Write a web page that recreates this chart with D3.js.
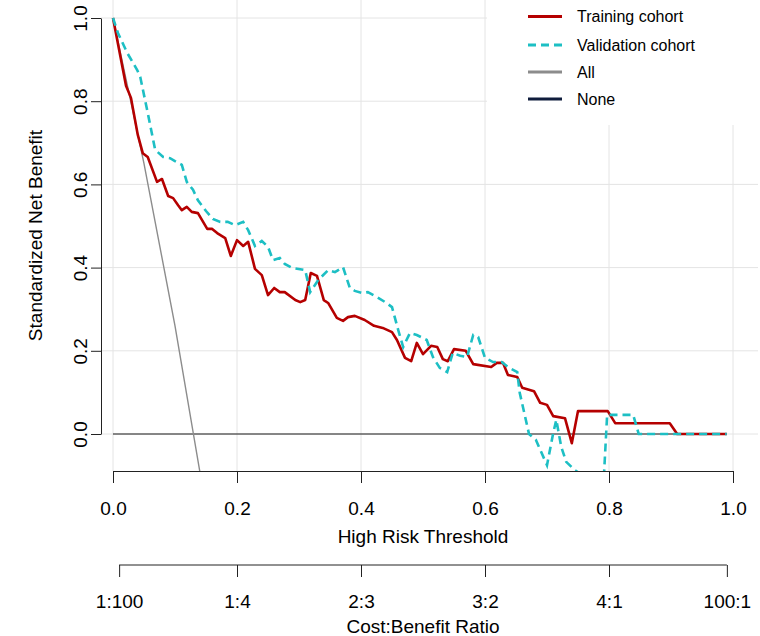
<!DOCTYPE html>
<html>
<head>
<meta charset="utf-8">
<script src="https://cdn.jsdelivr.net/npm/d3@7"></script>
<style>
  body { margin: 0; background: #fff; }
  text { font-family: "Liberation Sans", Arial, sans-serif; fill: #000; }
</style>
</head>
<body>
<div id="chart"></div>
<script>
// Values
const trainThreshold = [0, 0.021, 0.029, 0.040, 0.048, 0.056, 0.071, 0.079, 0.089, 0.097, 0.105, 0.111, 0.119, 0.127, 0.137, 0.152, 0.160, 0.168, 0.181, 0.190, 0.200, 0.210, 0.218, 0.229, 0.240, 0.250, 0.260, 0.269, 0.277, 0.294, 0.302, 0.310, 0.319, 0.329, 0.340, 0.347, 0.361, 0.371, 0.379, 0.390, 0.406, 0.421, 0.435, 0.450, 0.458, 0.471, 0.481, 0.490, 0.500, 0.513, 0.523, 0.532, 0.540, 0.550, 0.569, 0.581, 0.610, 0.619, 0.629, 0.637, 0.652, 0.660, 0.679, 0.689, 0.700, 0.710, 0.729, 0.740, 0.750, 0.798, 0.810, 0.898, 0.910, 0.990];
const trainNB = [1.000, 0.837, 0.808, 0.719, 0.675, 0.666, 0.606, 0.613, 0.572, 0.567, 0.550, 0.538, 0.546, 0.534, 0.531, 0.493, 0.493, 0.483, 0.471, 0.428, 0.466, 0.452, 0.462, 0.397, 0.382, 0.334, 0.351, 0.341, 0.341, 0.322, 0.317, 0.322, 0.387, 0.380, 0.322, 0.315, 0.279, 0.272, 0.281, 0.284, 0.274, 0.260, 0.255, 0.245, 0.226, 0.183, 0.175, 0.219, 0.192, 0.212, 0.209, 0.180, 0.175, 0.204, 0.200, 0.168, 0.161, 0.171, 0.171, 0.142, 0.137, 0.111, 0.103, 0.075, 0.070, 0.043, 0.038, -0.022, 0.055, 0.055, 0.026, 0.026, 0, 0];

const validThreshold = [0, 0.008, 0.023, 0.039, 0.044, 0.056, 0.068, 0.081, 0.092, 0.100, 0.111, 0.119, 0.129, 0.137, 0.150, 0.161, 0.173, 0.185, 0.197, 0.210, 0.218, 0.229, 0.240, 0.250, 0.258, 0.269, 0.277, 0.289, 0.310, 0.318, 0.331, 0.347, 0.358, 0.371, 0.382, 0.390, 0.402, 0.411, 0.426, 0.439, 0.450, 0.460, 0.468, 0.479, 0.490, 0.506, 0.516, 0.527, 0.539, 0.548, 0.560, 0.571, 0.581, 0.589, 0.600, 0.613, 0.627, 0.637, 0.652, 0.656, 0.671, 0.682, 0.700, 0.710, 0.715, 0.723, 0.731, 0.745, 0.753, 0.792, 0.797, 0.839, 0.848, 0.990];
const validNB = [1.000, 0.964, 0.916, 0.875, 0.858, 0.772, 0.683, 0.666, 0.663, 0.656, 0.647, 0.606, 0.587, 0.562, 0.536, 0.517, 0.510, 0.510, 0.502, 0.510, 0.490, 0.452, 0.464, 0.450, 0.418, 0.423, 0.409, 0.399, 0.394, 0.341, 0.370, 0.394, 0.389, 0.401, 0.351, 0.344, 0.339, 0.341, 0.329, 0.317, 0.305, 0.250, 0.209, 0.243, 0.238, 0.226, 0.185, 0.159, 0.149, 0.195, 0.188, 0.185, 0.238, 0.233, 0.183, 0.173, 0.173, 0.161, 0.149, 0.099, 0, -0.014, -0.075, 0.002, 0.034, -0.031, -0.067, -0.087, -0.095, -0.095, 0.046, 0.046, 0, 0];

const allThreshold = [0, 0.05, 0.10, 0.14];
const allNB = [1, 0.65, 0.26, -0.09];
const noneThreshold = [0, 0.99];
const noneNB = [0, 0];

const xTicks = [0, 0.2, 0.4, 0.6, 0.8, 1.0];
const yTicks = [0, 0.2, 0.4, 0.6, 0.8, 1.0];
const ratioTicks = [0.0099, 0.2, 0.4, 0.6, 0.8, 0.9901];
const ratioLabels = ["1:100", "1:4", "2:3", "3:2", "4:1", "100:1"];

const legendLabels = ["Training cohort", "Validation cohort", "All", "None"];
const legendColors = ["#b50000", "#1dbfc4", "#8c8c8c", "#0f1c3c"];

// layout
const svgW = 760, svgH = 636;
const plot = { left: 101, right: 758, top: 0, bottom: 471 };

const svg = d3.select('#chart').append('svg')
    .attr('width', svgW)
    .attr('height', svgH);

const x = d3.scaleLinear().domain([0, 1]).range([113, 733]);
const y = d3.scaleLinear().domain([0, 1]).range([434, 18]);

// grid
const grid = svg.append('g').attr('stroke', '#e4e4e4').attr('stroke-width', 1);
grid.selectAll('line.v').data(xTicks).join('line')
    .attr('class', 'v')
    .attr('x1', d => x(d)).attr('x2', d => x(d))
    .attr('y1', plot.top).attr('y2', plot.bottom);
grid.selectAll('line.h').data(yTicks).join('line')
    .attr('class', 'h')
    .attr('x1', plot.left).attr('x2', plot.right)
    .attr('y1', d => y(d)).attr('y2', d => y(d));

// legend background hides grid
svg.append('rect')
    .attr('x', 487).attr('y', 0)
    .attr('width', svgW - 487).attr('height', 125)
    .attr('fill', '#fff');

// clip for curves
svg.append('defs').append('clipPath').attr('id', 'plotClip')
    .append('rect')
    .attr('x', plot.left).attr('y', plot.top)
    .attr('width', plot.right - plot.left)
    .attr('height', plot.bottom - plot.top);

const curves = svg.append('g').attr('clip-path', 'url(#plotClip)');
const line = d3.line().x(d => x(d[0])).y(d => y(d[1]));

curves.append('path')
    .datum(d3.zip(noneThreshold, noneNB))
    .attr('d', line)
    .attr('fill', 'none')
    .attr('stroke', '#1a1a1a')
    .attr('stroke-width', 1.2);

curves.append('path')
    .datum(d3.zip(allThreshold, allNB))
    .attr('d', line)
    .attr('fill', 'none')
    .attr('stroke', legendColors[2])
    .attr('stroke-width', 1.4);

curves.append('path')
    .datum(d3.zip(trainThreshold, trainNB))
    .attr('d', line)
    .attr('fill', 'none')
    .attr('stroke', legendColors[0])
    .attr('stroke-width', 2.6)
    .attr('stroke-linejoin', 'round');

curves.append('path')
    .datum(d3.zip(validThreshold, validNB))
    .attr('d', line)
    .attr('fill', 'none')
    .attr('stroke', legendColors[1])
    .attr('stroke-width', 2.6)
    .attr('stroke-dasharray', '8,5');

// axes
function styleAxis(g) {
    g.selectAll('path.domain').attr('stroke', '#222');
    g.selectAll('.tick line').attr('stroke', '#222');
    g.selectAll('text').style('font-size', '19px').attr('fill', '#000');
}

const xAxis = d3.axisBottom(x)
    .tickValues(xTicks)
    .tickFormat(d3.format('.1f'))
    .tickSize(12)
    .tickSizeOuter(0);
svg.append('g')
    .attr('transform', `translate(0, ${plot.bottom})`)
    .call(xAxis)
    .call(styleAxis)
    .call(g => g.selectAll('text').attr('dy', null).attr('y', 44));

const yAxis = d3.axisLeft(y)
    .tickValues(yTicks)
    .tickFormat(d3.format('.1f'))
    .tickSize(10)
    .tickSizeOuter(0);
svg.append('g')
    .attr('transform', `translate(${plot.left}, 0)`)
    .call(yAxis)
    .call(styleAxis)
    .call(g => g.selectAll('text')
        .attr('transform', 'rotate(-90)')
        .attr('text-anchor', 'middle')
        .attr('dy', null)
        .attr('x', 0)
        .attr('y', -14));

const ratioAxis = d3.axisBottom(x)
    .tickValues(ratioTicks)
    .tickFormat((d, i) => ratioLabels[i])
    .tickSize(12)
    .tickSizeOuter(0);
const ratioG = svg.append('g')
    .attr('transform', 'translate(0, 565)')
    .call(ratioAxis)
    .call(styleAxis)
    .call(g => g.selectAll('text').attr('dy', null).attr('y', 43));
ratioG.select('path.domain').remove();
ratioG.append('line')
    .attr('x1', x(ratioTicks[0])).attr('x2', x(ratioTicks[ratioTicks.length - 1]))
    .attr('y1', 0).attr('y2', 0)
    .attr('stroke', '#222');

// axis titles
svg.append('text')
    .attr('x', x(0.5)).attr('y', 542.5)
    .attr('text-anchor', 'middle')
    .style('font-size', '19px')
    .text('High Risk Threshold');
svg.append('text')
    .attr('x', x(0.5)).attr('y', 632.5)
    .attr('text-anchor', 'middle')
    .style('font-size', '19px')
    .text('Cost:Benefit Ratio');
svg.append('text')
    .attr('transform', `translate(42, ${(plot.top + plot.bottom) / 2}) rotate(-90)`)
    .attr('text-anchor', 'middle')
    .style('font-size', '19px')
    .text('Standardized Net Benefit');

// legend
const legendY = [16.5, 45, 72, 99];
const legend = svg.append('g');
const item = legend.selectAll('g').data(legendLabels).join('g')
    .attr('transform', (d, i) => `translate(0, ${legendY[i]})`);
item.append('line')
    .attr('x1', 528).attr('x2', 562)
    .attr('y1', 0).attr('y2', 0)
    .attr('stroke', (d, i) => legendColors[i])
    .attr('stroke-width', 3)
    .attr('stroke-dasharray', (d, i) => i === 1 ? '8,5' : null);
item.append('text')
    .attr('x', 577).attr('y', 0)
    .attr('dy', '0.35em')
    .style('font-size', '16px')
    .text(d => d);
</script>
</body>
</html>
